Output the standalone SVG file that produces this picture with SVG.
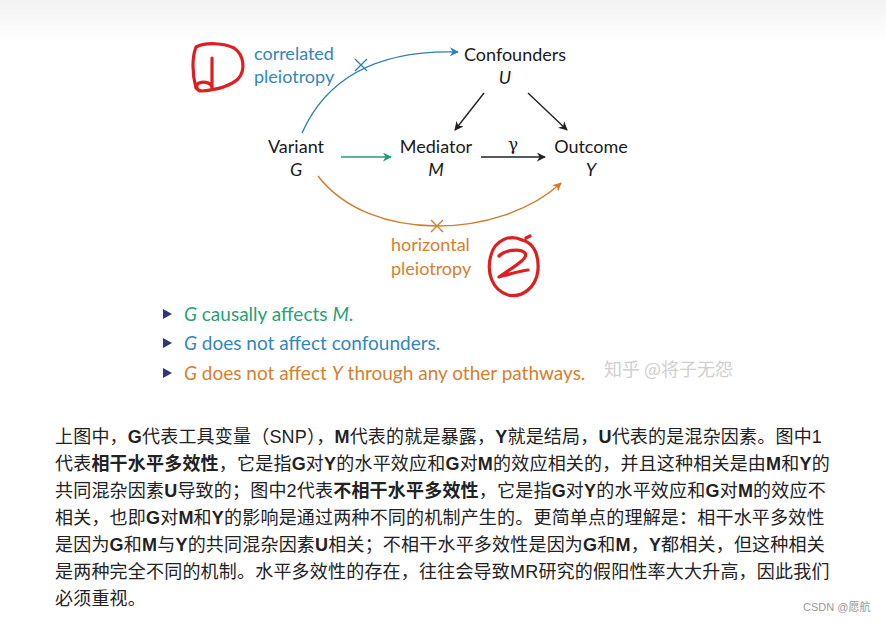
<svg xmlns="http://www.w3.org/2000/svg" width="886" height="626" viewBox="0 0 886 626">
<defs>
<linearGradient id="topfade" x1="0" y1="0" x2="0" y2="1">
<stop offset="0" stop-color="#f2f2f2"/>
<stop offset="1" stop-color="#ffffff"/>
</linearGradient>
<marker id="ah-blk" viewBox="0 0 10 10" refX="9" refY="5" markerWidth="9" markerHeight="9" markerUnits="userSpaceOnUse" orient="auto"><path d="M0,0 L10,5 L0,10 L3,5 Z" fill="#222"/></marker>
<marker id="ah-blue" viewBox="0 0 10 10" refX="9" refY="5" markerWidth="9" markerHeight="9" markerUnits="userSpaceOnUse" orient="auto"><path d="M0,0 L10,5 L0,10 L3,5 Z" fill="#2f80b5"/></marker>
<marker id="ah-grn" viewBox="0 0 10 10" refX="9" refY="5" markerWidth="9" markerHeight="9" markerUnits="userSpaceOnUse" orient="auto"><path d="M0,0 L10,5 L0,10 L3,5 Z" fill="#1f9e76"/></marker>
<marker id="ah-org" viewBox="0 0 10 10" refX="9" refY="5" markerWidth="9" markerHeight="9" markerUnits="userSpaceOnUse" orient="auto"><path d="M0,0 L10,5 L0,10 L3,5 Z" fill="#d27b2c"/></marker>
</defs>
<style>
.lbl{font-family:Lato,"Open Sans","DejaVu Sans",sans-serif;font-size:18px;fill:#1a1a1a}
.var{font-family:Lato,"Open Sans","DejaVu Sans",sans-serif;font-size:18px;font-style:italic;fill:#1a1a1a}
.blue{fill:#3386bb}
.org{fill:#d4802f}
.grn{fill:#27a074}
.bul{font-family:Lato,"Open Sans","DejaVu Sans",sans-serif;font-size:19px}
.cn{font-family:"Liberation Sans","Noto Sans CJK SC",sans-serif;font-size:18px;fill:#222;letter-spacing:0.2px}
.b{font-weight:bold}
.red{fill:none;stroke:#dd1f1f;stroke-width:3.2;stroke-linecap:round;stroke-linejoin:round}
.edge{fill:none;stroke-width:1.4}
</style>
<rect width="886" height="626" fill="#ffffff"/>
<rect width="886" height="42" fill="url(#topfade)"/>

<g id="connectors">
<path class="edge" d="M302,133 C330,70 390,50 458,52" stroke="#2f80b5" marker-end="url(#ah-blue)"/>
<path class="edge" d="M355,59 L367,71 M355,71 L367,59" stroke="#2f80b5"/>
<path class="edge" d="M484,93 L455,130" stroke="#222" marker-end="url(#ah-blk)"/>
<path class="edge" d="M528,93 L567,130" stroke="#222" marker-end="url(#ah-blk)"/>
<path class="edge" d="M341,157 L391,157" stroke="#1f9e76" marker-end="url(#ah-grn)"/>
<path class="edge" d="M481,157 L545,157" stroke="#222" marker-end="url(#ah-blk)"/>
<path class="edge" d="M318,176 C370,244 500,239 561,183" stroke="#d27b2c" marker-end="url(#ah-org)"/>
<path class="edge" d="M431,220 L443,232 M431,232 L443,220" stroke="#d27b2c"/>
<text x="513" y="150" text-anchor="middle" font-family="'DejaVu Serif',serif" font-size="17" fill="#1a1a1a">γ</text>
</g>

<g id="label-correlated">
<text class="lbl blue" x="254" y="60">correlated</text>
<text class="lbl blue" x="254" y="83">pleiotropy</text>
</g>
<g id="label-horizontal">
<text class="lbl org" x="391" y="251">horizontal</text>
<text class="lbl org" x="391" y="275">pleiotropy</text>
</g>

<g id="node-U">
<text class="lbl" x="515" y="61" text-anchor="middle">Confounders</text>
<text class="var" x="505" y="84" text-anchor="middle">U</text>
</g>
<g id="node-G">
<text class="lbl" x="296" y="153" text-anchor="middle">Variant</text>
<text class="var" x="296" y="176" text-anchor="middle">G</text>
</g>
<g id="node-M">
<text class="lbl" x="436" y="153" text-anchor="middle">Mediator</text>
<text class="var" x="436" y="176" text-anchor="middle">M</text>
</g>
<g id="node-Y">
<text class="lbl" x="591" y="153" text-anchor="middle">Outcome</text>
<text class="var" x="591" y="176" text-anchor="middle">Y</text>
</g>

<g id="mark-1">
<path class="red" d="M196,88 C192,74 192,57 196,47 C206,42 224,43 234,48 C244,55 246,70 238,79 C229,87 214,90 202,91 C196,91 195,85 199,83 C205,81 212,83 212,88 L212,58"/>
</g>
<g id="mark-2">
<path class="red" d="M522,240 C510,234 495,240 491,255 C486,272 492,290 508,295 C522,298 536,288 538,270 C539,255 534,243 522,240 M526,238 L530,236"/>
<path class="red" d="M499,256 C505,250 520,248 525,253 C529,258 515,266 499,277 C510,274 520,271 528,270"/>
</g>

<g id="bullets">
<path d="M163,309 L172,314 L163,319 Z" fill="#33337f"/>
<path d="M163,338 L172,343 L163,348 Z" fill="#33337f"/>
<path d="M163,368 L172,373 L163,378 Z" fill="#33337f"/>
<text class="bul grn" x="184" y="321"><tspan font-style="italic">G</tspan> causally affects <tspan font-style="italic">M</tspan>.</text>
<text class="bul blue" x="184" y="350"><tspan font-style="italic">G</tspan> does not affect confounders.</text>
<text class="bul org" x="184" y="380"><tspan font-style="italic">G</tspan> does not affect <tspan font-style="italic">Y</tspan> through any other pathways.</text>
</g>

<text x="604" y="376" font-family="'Noto Sans CJK SC',sans-serif" font-size="18" fill="#cfcfcf">知乎 @将子无怨</text>

<g id="paragraph">
<text class="cn" x="55" y="443">上图中，<tspan class="b">G</tspan>代表工具变量（SNP），<tspan class="b">M</tspan>代表的就是暴露，<tspan class="b">Y</tspan>就是结局，<tspan class="b">U</tspan>代表的是混杂因素。图中1</text>
<text class="cn" x="55" y="470">代表<tspan class="b">相干水平多效性</tspan>，它是指<tspan class="b">G</tspan>对<tspan class="b">Y</tspan>的水平效应和<tspan class="b">G</tspan>对<tspan class="b">M</tspan>的效应相关的，并且这种相关是由<tspan class="b">M</tspan>和<tspan class="b">Y</tspan>的</text>
<text class="cn" x="55" y="497">共同混杂因素<tspan class="b">U</tspan>导致的；图中2代表<tspan class="b">不相干水平多效性</tspan>，它是指<tspan class="b">G</tspan>对<tspan class="b">Y</tspan>的水平效应和<tspan class="b">G</tspan>对<tspan class="b">M</tspan>的效应不</text>
<text class="cn" x="55" y="524">相关，也即<tspan class="b">G</tspan>对<tspan class="b">M</tspan>和<tspan class="b">Y</tspan>的影响是通过两种不同的机制产生的。更简单点的理解是：相干水平多效性</text>
<text class="cn" x="55" y="551">是因为<tspan class="b">G</tspan>和<tspan class="b">M</tspan>与<tspan class="b">Y</tspan>的共同混杂因素<tspan class="b">U</tspan>相关；不相干水平多效性是因为<tspan class="b">G</tspan>和<tspan class="b">M</tspan>，<tspan class="b">Y</tspan>都相关，但这种相关</text>
<text class="cn" x="55" y="578">是两种完全不同的机制。水平多效性的存在，往往会导致MR研究的假阳性率大大升高，因此我们</text>
<text class="cn" x="55" y="605">必须重视。</text>
</g>

<text x="803" y="611" font-family="'Liberation Sans','Noto Sans CJK SC',sans-serif" font-size="11" fill="#999">CSDN @愿航</text>
</svg>
